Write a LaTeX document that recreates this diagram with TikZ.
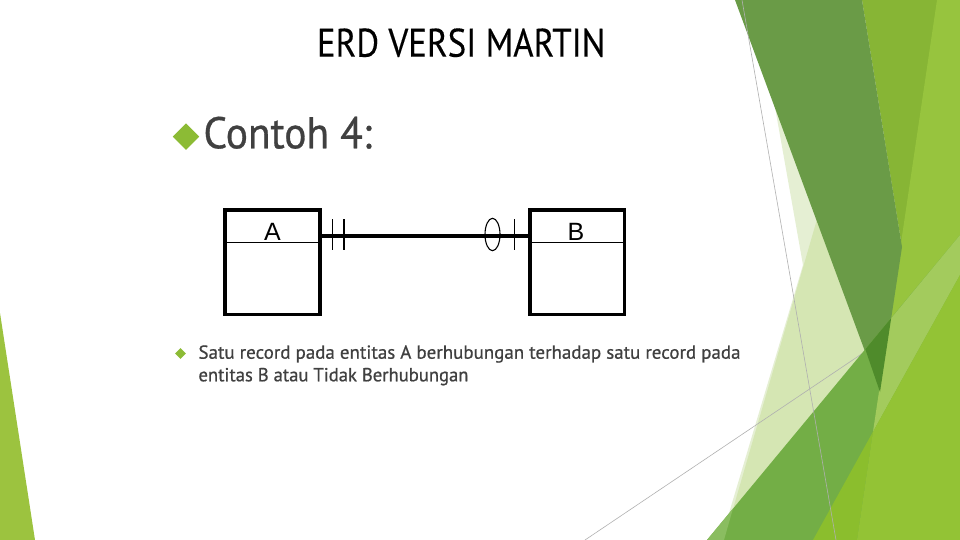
\documentclass[tikz,border=0pt]{standalone}
\usepackage{fontspec}
\usepackage{graphicx}
\setmainfont{PT Sans}
\newfontfamily\titlef[FakeBold=0.25]{PT Sans}
\newfontfamily\bodyf[FakeBold=0.7]{PT Sans}
\newfontfamily\arialf{Liberation Sans}
\usetikzlibrary{shapes.geometric}

\definecolor{txt}{HTML}{404040}
\definecolor{bulg}{HTML}{8CBB35}
\definecolor{paleone}{HTML}{E5EFD3}
\definecolor{paletwo}{HTML}{D5E6B3}
\definecolor{zgreen}{HTML}{87B535}
\definecolor{rgreen}{HTML}{97C43E}
\definecolor{dgreen}{HTML}{6A9B47}
\definecolor{mgreen}{HTML}{73AE46}
\definecolor{rmgreen}{HTML}{A3CB5D}
\definecolor{ddgreen}{HTML}{4F8B2B}
\definecolor{mlight}{HTML}{8ABD60}
\definecolor{ytwo}{HTML}{8BBE2D}
\definecolor{ytworight}{HTML}{93C335}
\definecolor{barg}{HTML}{9CC33F}
\definecolor{thinline}{HTML}{B0B0B0}

\tikzset{
  bgline/.style={draw=thinline, line width=0.6pt},
  entity/.style={draw=black, line width=3.3pt, rectangle, inner sep=0pt},
  divider/.style={draw=black, line width=1pt},
  relline/.style={draw=black, line width=4.5pt},
  tickmark/.style={draw=black, line width=1.1pt},
  entlabel/.style={anchor=base, inner sep=0pt, font=\arialf\fontsize{25}{30}\selectfont},
  textline/.style={anchor=base west, inner sep=0pt, text=txt},
  bullet/.style={diamond, fill=bulg, inner sep=0pt, aspect=1},
}

\begin{document}
\begin{tikzpicture}[x=1pt,y=-1pt]
\useasboundingbox (0,0) rectangle (960,540);
\fill[white] (0,0) rectangle (960,540);

% ---------- decorative background (Facet style) ----------
\fill[paleone] (756,0) -- (803,265) -- (721,540) -- (960,540) -- (960,0) -- cycle;
\fill[paletwo] (840,140) -- (724,540) -- (960,540) -- (960,140) -- cycle;
\draw[bgline] (585,540) -- (875,345);
\fill[zgreen] (862,0) -- (960,0) -- (960,300) -- (902,247) -- cycle;
\fill[rgreen] (937,0) -- (960,0) -- (960,540) -- (857,540) -- cycle;
\fill[dgreen] (735,0) -- (862,0) -- (902,247) -- (880,392) -- cycle;
\fill[mgreen] (707,540) -- (960,235) -- (960,540) -- cycle;
\fill[rmgreen] (889.7,320) -- (960,235) -- (960,275) -- (873,431.7) -- cycle;
\fill[ddgreen] (865.3,349.3) -- (891.2,318) -- (880,392) -- cycle;
\fill[mlight] (707,540) -- (724,540) -- (733,508.5) -- cycle;
\fill[ytwo] (813,540) -- (873,431.7) -- (857,540) -- cycle;
\fill[ytworight] (873,431.7) -- (960,275) -- (960,540) -- (857,540) -- cycle;
\draw[bgline] (742,0) -- (836,540);
\fill[barg] (0,313) -- (35,540) -- (0,540) -- cycle;

% ---------- title ----------
\node[textline, text=black] (title) at (316.7,56.7)
  {\resizebox{288.3pt}{28.4pt}{\titlef\fontsize{40}{48}\selectfont ERD VERSI MARTIN}};

% ---------- first level bullet ----------
\node[bullet, minimum size=26.6pt] (b1) at (186,136.7) {};
\node[textline] (contoh) at (203.3,148.3)
  {\resizebox{168.4pt}{31.6pt}{\bodyf\fontsize{44}{50}\selectfont Contoh 4:}};

% ---------- ERD ----------
\node[entity, minimum width=95.1pt, minimum height=104.4pt] (entA) at (272.5,262.15) {};
\node[entity, minimum width=94.4pt, minimum height=104.4pt] (entB) at (577.15,262.15) {};
\coordinate (divy) at (0,242.3);
\coordinate (rely) at (0,235.8);
\draw[divider] (entA.west |- divy) -- (entA.east |- divy);
\draw[divider] (entB.west |- divy) -- (entB.east |- divy);
\node[entlabel] (labA) at (272.5,240) {A};
\node[entlabel] (labB) at (576,240) {B};

\draw[relline] (entA.east |- rely) -- (entB.west |- rely);
% one and only one (A side)
\draw[tickmark] (332.3,219.3) -- (332.3,250);
\draw[tickmark] (344,219.3) -- (344,250);
% zero or one (B side)
\draw[tickmark] (492.5,234.5) ellipse [x radius=7.5pt, y radius=16.2pt];
\draw[tickmark] (514.3,219.3) -- (514.3,250);

% ---------- body bullet ----------
\node[bullet, minimum size=11pt] (b2) at (180.5,353.5) {};
\node[textline] (line1) at (198.3,358.7)
  {\resizebox{542pt}{13.4pt}{\bodyf\fontsize{18}{22}\selectfont Satu record pada entitas A berhubungan terhadap satu record pada}};
\node[textline] (line2) at (198.3,381.3)
  {\resizebox{270pt}{13.4pt}{\bodyf\fontsize{18}{22}\selectfont entitas B atau Tidak Berhubungan}};
\end{tikzpicture}
\end{document}
